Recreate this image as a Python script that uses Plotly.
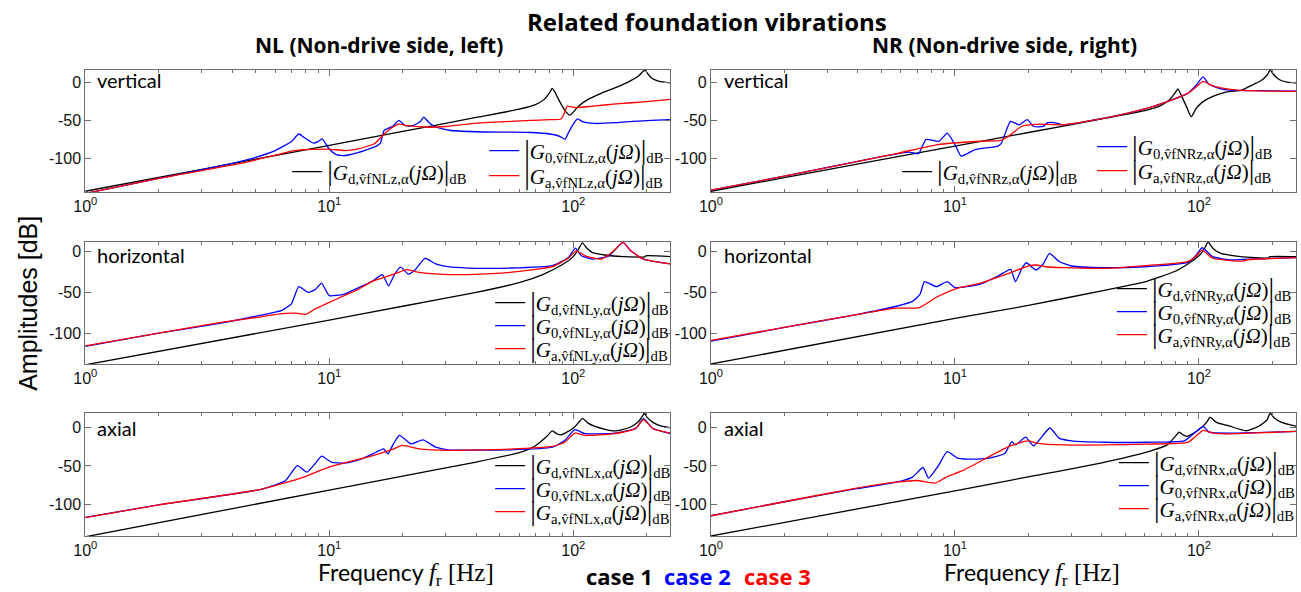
import math
import plotly.graph_objects as go

W, H = 1301, 592

# ---------------- data (frequency in Hz, amplitude in dB) ----------------
# NL vertical (z)
nlz_d_f = [1, 2, 5, 10, 20, 40, 60, 70, 76, 80, 82, 84, 88, 93, 97, 100, 105, 115, 130, 150, 170, 185, 193, 197, 202, 210, 225, 250]
nlz_d_db = [-144, -125.6, -101.4, -83, -64.6, -46, -35, -29, -22, -13, -7.5, -12, -25, -38, -43, -39, -31, -22, -14, -6, 2, 9, 15, 17, 12, 6, 2, 0]
nlz_0_f = [1, 2, 4, 5, 6, 7, 7.5, 8, 8.6, 9.0, 9.35, 10, 10.7, 11.6, 13, 15.6, 16.2, 16.8, 17.3, 18.3, 19.3, 20.5, 22, 23.5, 24.4, 25.5, 27, 31, 40, 55, 67, 80, 88, 92.5, 95, 100, 104, 110, 122, 150, 181, 250]
nlz_0_db = [-147, -127, -107, -99, -90, -78, -68, -74, -80, -78, -74.5, -88, -95.5, -96.5, -93, -84, -80, -63, -61, -57, -50, -57, -57, -52, -45.5, -52, -58, -63, -65, -65.5, -66, -68, -71, -75, -68, -55, -48, -52, -54, -53, -51, -49]
nlz_a_f = [1, 2, 4.5, 6, 7.2, 8.5, 9.9, 11.6, 13, 15.3, 16.8, 18, 19.3, 20.9, 25.4, 30, 37.6, 50, 67, 80, 89, 92, 94.5, 98, 103, 120, 150, 200, 250]
nlz_a_db = [-147, -127, -106, -96, -90, -88.5, -88, -90, -88, -81, -68, -60, -55, -57, -59, -58, -54.5, -52, -50, -49, -48, -40, -31, -32, -33, -31, -28, -25, -22]

# NR vertical (z)
nrz_d_f = [1, 2, 5, 10, 20, 40, 60, 70, 76, 80, 82, 85, 89, 93, 97, 103, 114, 130, 150, 165, 180, 190, 196, 202, 214, 230, 250]
nrz_d_db = [-144, -126, -102, -84, -66, -48, -37, -30, -22, -13, -8, -18, -32, -45, -35, -26, -18, -12, -9.6, -3, 3, 10, 17, 11, 4, 1, 0]
nrz_0_f = [1, 2, 5, 6.5, 7.1, 7.6, 8.6, 9.3, 10.0, 10.6, 12.1, 15, 15.5, 16.9, 18.3, 19.8, 21, 23, 24, 25.5, 27.7, 41, 61, 77, 90, 97, 104, 110, 123, 134, 180, 250]
nrz_0_db = [-142.5, -124, -98, -92, -94, -75.4, -77.6, -66.7, -82, -97.4, -88.6, -84, -80, -51.3, -55.7, -49, -58, -58, -53, -53, -55.7, -47, -34, -23, -14, -4, 8, -2, -8, -9.6, -10.5, -11]
nrz_a_f = [1, 2, 5.75, 8.5, 12.6, 15.4, 16.6, 18.7, 22, 27.7, 41, 61, 77, 90, 97, 104, 112, 123, 144, 200, 250]
nrz_a_db = [-142.5, -124, -94, -82, -77.6, -76.3, -71, -58, -55, -55.7, -47, -34, -23, -14, -6, 2, -3, -6.6, -9.6, -11, -11.5]

# NL horizontal (y)
nly_d_f = [1, 10, 20, 40, 60, 75, 90, 100, 105, 109, 114, 120, 135, 160, 190, 196, 198, 250]
nly_d_db = [-139, -84, -67, -50, -38, -28, -16, -6, 3, 11, 4, -1, -4, -6, -6.5, -6.5, -5, -6]
nly_0_f = [1, 2, 3.55, 5.25, 6.4, 7.0, 7.5, 8.2, 8.8, 9.3, 10.0, 11.5, 13, 15.1, 16.5, 17.5, 18.5, 19.6, 21.1, 22.5, 24.7, 27.3, 30.7, 37, 55, 82, 95.5, 102, 108, 121, 140, 160, 172, 194, 250]
nly_0_db = [-116.4, -100, -88, -78, -72, -64, -43, -50, -46, -38.5, -54, -52, -45, -35.7, -28, -42, -28, -19, -27.5, -22, -8, -15, -18.4, -20, -20, -17, -7, 4.5, -5, -9, -5, 11.5, 1.2, -9, -15]
nly_a_f = [1, 2, 3.55, 5.25, 6.4, 7.3, 8.0, 8.8, 9.8, 11.5, 13, 15.1, 18.4, 20.8, 23.4, 30.7, 37, 55, 82, 95.5, 103, 112, 130, 144, 160, 172, 194, 250]
nly_a_db = [-115.6, -100, -87, -80, -76, -75.5, -77, -70, -63.5, -54, -47, -36, -27.5, -22, -25.4, -28, -28, -25.4, -18.4, -7.8, 1.2, -5, -9, -0.8, 11.5, 1.2, -9, -15]

# NR horizontal (y)
nry_d_f = [1, 10, 20, 40, 60, 80, 90, 100, 105, 109, 115, 123, 140, 163, 193, 195, 250]
nry_d_db = [-138, -82, -66, -48, -37, -24, -15, -5, 3, 12, 3, -2, -5, -7, -7.5, -6, -6]
nry_0_f = [1, 2, 3.9, 5.75, 6.7, 7.2, 7.5, 8.4, 9.3, 10.0, 12.6, 15, 16.9, 17.7, 18.7, 19.6, 21.5, 23, 24.4, 26.7, 30, 41, 60, 90, 97, 103, 114, 134, 160, 250]
nry_0_db = [-110, -93, -77.6, -67, -61, -52, -36.7, -42.9, -36.7, -44, -40, -30, -21.6, -36.7, -22, -13.5, -22.4, -15, -2, -12, -17.5, -19.6, -18.4, -13, -5, 4.9, -6, -10, -9, -7.3]
nry_a_f = [1, 2, 3.9, 5.75, 7.15, 8.5, 10.2, 12.6, 16.6, 20.2, 21.5, 23.6, 27.8, 41, 61, 90, 97, 103, 114, 144, 155, 157, 250]
nry_a_db = [-109, -93, -77.6, -69.4, -68.6, -55, -45, -38.8, -26.5, -17, -16.3, -18.4, -19.6, -20.4, -17, -12, -6, 2, -8, -11.4, -11, -10, -7.3]

# NL axial (x)
nlx_d_f = [1, 10, 20, 40, 60, 70, 78, 82, 86, 89, 95, 102, 106, 109, 115, 122, 135, 148, 160, 172, 185, 193, 196, 200, 212, 230, 250]
nlx_d_db = [-141, -81, -63, -45, -33, -24, -12, -5, -9, -10, -6, 1, 7, 11, 5, 1, -3, -5, -3, 0, 7, 15, 18, 13, 6, 1, -1]
nlx_0_f = [1, 2, 5.25, 6.6, 7.4, 8.1, 8.7, 9.3, 10.2, 11.5, 13, 15.1, 16.7, 17.4, 18.3, 19.4, 21.6, 24.2, 27.3, 30.7, 55, 82, 92.5, 101.5, 112, 148, 180, 194, 212, 250]
nlx_0_db = [-116, -100, -80, -69, -49.6, -58, -48, -37.5, -45, -46.5, -43, -34.5, -28, -34.5, -22, -10.8, -21.6, -16.4, -25.9, -29.3, -29.3, -26, -17, -3.4, -8.6, -7.8, -2, 10.8, -2, -8.6]
nlx_a_f = [1, 2, 5.25, 7.8, 9.9, 15.1, 18.4, 19.9, 23.3, 30.7, 55, 82, 92.5, 101.5, 112, 148, 180, 194, 212, 250]
nlx_a_db = [-116.4, -100, -80, -64.7, -51.7, -36.6, -28, -23.7, -28, -30, -28.4, -25, -19.4, -7.8, -10.8, -8.6, -2, 9.5, -2, -7.8]

# NR axial (x)
nrx_d_f = [1, 10, 20, 40, 60, 74, 80, 83, 86, 89, 95, 103, 108, 111, 118, 134, 156, 176, 190, 196, 203, 218, 250]
nrx_d_db = [-140, -82, -64, -46, -33, -23, -12, -6.5, -10, -12, -8, 0, 7, 12.6, 6, 1, -4.8, 1, 9, 18, 12, 6, 1]
nrx_0_f = [1, 2, 3.9, 5.75, 6.7, 7.4, 7.8, 8.5, 9.3, 10.2, 11.2, 13.6, 16, 17.1, 17.7, 19.5, 21, 24.5, 26.7, 30, 41, 61, 87, 94, 104, 110, 134, 250]
nrx_0_db = [-114, -96, -79.6, -70.9, -64.3, -52, -65.6, -51, -31.7, -39.6, -41.3, -40.4, -34, -18.7, -23, -13, -24.3, -1.3, -14.3, -17.8, -19.6, -19.6, -17.8, -10, 0.9, -6.5, -7.8, -5.7]
nrx_a_f = [1, 2, 3.9, 5.75, 7, 8.3, 9.2, 10.8, 16.6, 19.9, 21.9, 27.7, 41, 61, 90, 97, 104, 114, 134, 250]
nrx_a_db = [-114, -96, -78.7, -70.9, -68.7, -72, -64.3, -55.7, -25.2, -17.8, -20.9, -23, -23, -22, -19.6, -12, -4.3, -7.8, -8.7, -5.7]

x_tick_vals = [1, 10, 100]
x_tick_text = ["10<sup>0</sup>", "10<sup>1</sup>", "10<sup>2</sup>"]
x_minor_vals = [2, 3, 4, 5, 6, 7, 8, 9, 20, 30, 40, 50, 60, 70, 80, 90, 200]
y_tick_vals = [-100, -50, 0]
y_tick_text = ["-100", "-50", "0"]
row_ylim = [[-145, 17], [-138, 12], [-140, 18]]
x_max = 250

# ---------------- layout geometry (pixels) ----------------
col_px = [(74, 665), (706, 1297)]
row_px = [(70, 192), (242, 364), (413, 536)]

def px(x):
    return x / W

def py(y):
    return 1 - y / H

BLACK, BLUE, RED = "#000000", "#0000ff", "#ff0000"
AXC = "#6e6e6e"

def label(kind, name):
    bar = '<span style="font-size:28px">|</span>'
    return (bar + "<i>G</i><sub>" + kind + ",v\u0302f" + name + ",\u03b1</sub>(<i>j\u03a9</i>)"
            + bar + "<sub>dB</sub>")

# (name, row, col, [(f, db, colour, kind, legend x_px, legend y_px)])
panels = [
    ("NLz", 0, 0, [(nlz_d_f, nlz_d_db, BLACK, "d", 283, 172),
                   (nlz_0_f, nlz_0_db, BLUE, "0", 482, 151),
                   (nlz_a_f, nlz_a_db, RED, "a", 482, 176)]),
    ("NRz", 0, 1, [(nrz_d_f, nrz_d_db, BLACK, "d", 899, 172),
                   (nrz_0_f, nrz_0_db, BLUE, "0", 1096, 147),
                   (nrz_a_f, nrz_a_db, RED, "a", 1096, 171)]),
    ("NLy", 1, 0, [(nly_d_f, nly_d_db, BLACK, "d", 488, 303),
                   (nly_0_f, nly_0_db, BLUE, "0", 488, 326),
                   (nly_a_f, nly_a_db, RED, "a", 488, 349)]),
    ("NRy", 1, 1, [(nry_d_f, nry_d_db, BLACK, "d", 1116, 289),
                   (nry_0_f, nry_0_db, BLUE, "0", 1116, 312),
                   (nry_a_f, nry_a_db, RED, "a", 1116, 335)]),
    ("NLx", 2, 0, [(nlx_d_f, nlx_d_db, BLACK, "d", 488, 466),
                   (nlx_0_f, nlx_0_db, BLUE, "0", 488, 489),
                   (nlx_a_f, nlx_a_db, RED, "a", 488, 512)]),
    ("NRx", 2, 1, [(nrx_d_f, nrx_d_db, BLACK, "d", 1118, 463),
                   (nrx_0_f, nrx_0_db, BLUE, "0", 1118, 486),
                   (nrx_a_f, nrx_a_db, RED, "a", 1118, 509)]),
]

fig = go.Figure()
layout = dict(width=W, height=H, margin=dict(l=0, r=0, t=0, b=0),
              paper_bgcolor="white", plot_bgcolor="white", showlegend=True)

leg_n = 0
for k, (name, r, c, series) in enumerate(panels, start=1):
    xa = "x" if k == 1 else f"x{k}"
    ya = "y" if k == 1 else f"y{k}"
    for (f, db, colour, kind, lx, ly) in series:
        leg_n += 1
        lid = "legend" if leg_n == 1 else f"legend{leg_n}"
        fig.add_trace(go.Scatter(x=f, y=db, mode="lines", xaxis=xa, yaxis=ya,
                                 line=dict(color=colour, width=1.3, shape="spline", smoothing=0.5),
                                 name=label(kind, name), legend=lid))
        layout[lid] = dict(x=px(lx - 5), y=py(ly), xanchor="left", yanchor="middle",
                           bgcolor="rgba(0,0,0,0)", borderwidth=0,
                           font=dict(family="Liberation Serif", size=21, color="black"))
    x0, x1 = col_px[c]
    y0, y1 = row_px[r]
    axkey_x = "xaxis" if k == 1 else f"xaxis{k}"
    axkey_y = "yaxis" if k == 1 else f"yaxis{k}"
    layout[axkey_x] = dict(type="log", range=[0, math.log10(x_max)], domain=[px(x0), px(x1)],
                           anchor=ya, showline=True, linecolor=AXC, linewidth=1, mirror="ticks",
                           ticks="inside", ticklen=6, tickcolor=AXC, showgrid=False, zeroline=False,
                           tickmode="array", tickvals=x_tick_vals, ticktext=x_tick_text,
                           tickfont=dict(family="Liberation Sans", size=16, color="#111"),
                           minor=dict(tickmode="array", tickvals=x_minor_vals, ticks="inside",
                                      ticklen=3, tickcolor=AXC, showgrid=False))
    layout[axkey_y] = dict(range=row_ylim[r], domain=[py(y1), py(y0)], anchor=xa,
                           showline=True, linecolor=AXC, linewidth=1, mirror="ticks",
                           ticks="inside", ticklen=6, tickcolor=AXC, showgrid=False, zeroline=False,
                           tickmode="array", tickvals=y_tick_vals, ticktext=y_tick_text,
                           tickfont=dict(family="Liberation Sans", size=16, color="#111"))

fig.update_layout(**layout)

ann = []
def add_text(text, x, y, size, family="Lato", color="black", xanchor="center", angle=0):
    ann.append(dict(text=text, x=px(x), y=py(y), xref="paper", yref="paper", showarrow=False,
                    xanchor=xanchor, yanchor="middle", textangle=angle,
                    font=dict(family=family, size=size, color=color)))

add_text("<b>Related foundation vibrations</b>", 702, 21, 24, family="Open Sans")
add_text("<b>NL (Non-drive side, left)</b>", 371, 45, 21, family="Open Sans")
add_text("<b>NR (Non-drive side, right)</b>", 1003, 45, 21, family="Open Sans")
for (lbl, yy) in [("vertical", 80), ("horizontal", 255), ("axial", 428)]:
    add_text(lbl, 84, yy, 20, xanchor="left")
    add_text(lbl, 717, yy, 20, xanchor="left")
add_text("Amplitudes [dB]", 16, 303, 25, family="Liberation Sans", angle=-90)
freq = ('Frequency <span style="font-family:Liberation Serif;font-size:25px"><i>f</i><sub>r</sub> [Hz]</span>')
add_text(freq, 398, 574, 23)
add_text(freq, 1030, 574, 23)
add_text("<b>case 1</b>", 614, 576, 22, family="Open Sans", color=BLACK)
add_text("<b>case 2</b>", 692, 576, 22, family="Open Sans", color=BLUE)
add_text("<b>case 3</b>", 773, 576, 22, family="Open Sans", color=RED)
fig.update_layout(annotations=ann)

fig.write_html("out.html")
